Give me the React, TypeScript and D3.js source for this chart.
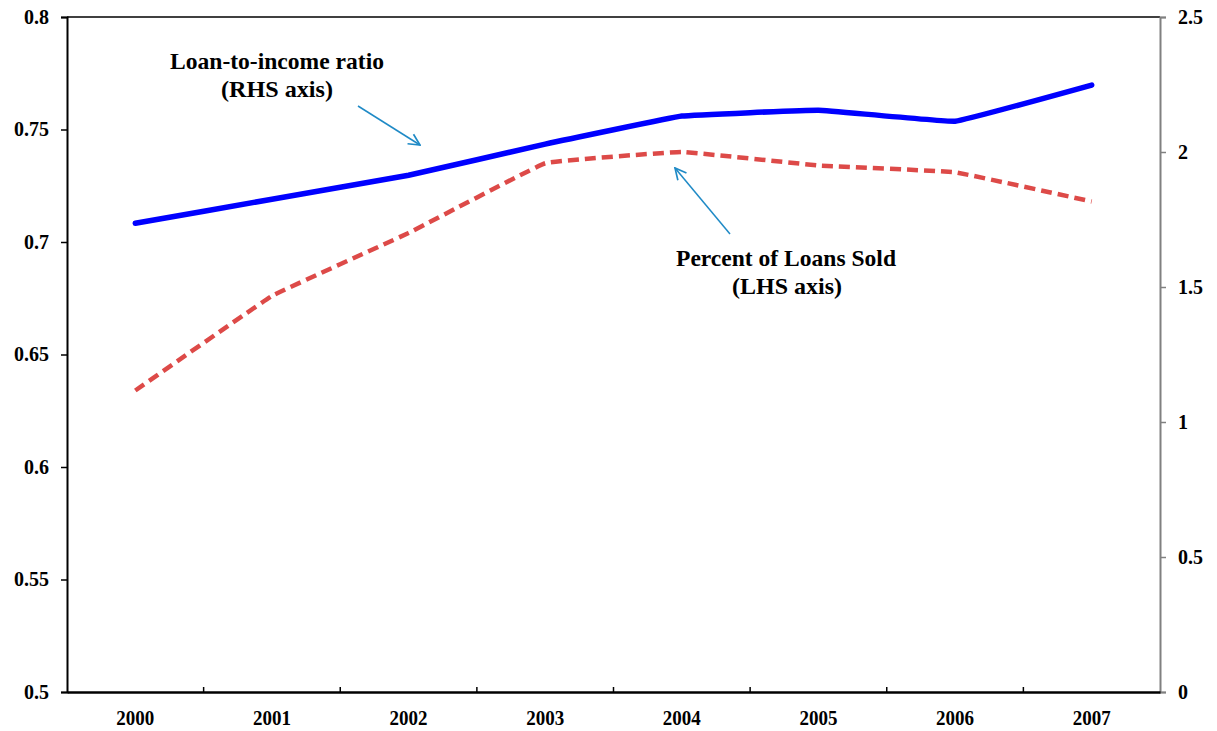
import React, { useRef, useEffect } from 'react'
import * as d3 from 'd3'

const years = ['2000', '2001', '2002', '2003', '2004', '2005', '2006', '2007']
// percent of loans sold, left axis
const loansSold = [0.634, 0.676, 0.704, 0.735, 0.740, 0.734, 0.731, 0.718]
// loan-to-income ratio, right axis
const loanToIncome = [1.736, 1.825, 1.914, 2.029, 2.133, 2.155, 2.114, 2.248]
const leftTicks = [0.5, 0.55, 0.6, 0.65, 0.7, 0.75, 0.8]
const rightTicks = [0, 0.5, 1, 1.5, 2, 2.5]

const W = 1217
const H = 731
const FONT = '"Liberation Serif", "Times New Roman", serif'

const App = () => {
  const ref = useRef<SVGSVGElement>(null)

  useEffect(() => {
    const svg = d3.select(ref.current)
    svg.selectAll('*').remove()

    const left = 67, right = 1160, top = 17, bottom = 692

    const x = d3.scaleBand().domain(years).range([left, right]).padding(0)
    const yL = d3.scaleLinear().domain([0.5, 0.8]).range([bottom, top])
    const yR = d3.scaleLinear().domain([0, 2.5]).range([bottom, top])
    const cx = (i: number) => (x(years[i]) as number) + x.bandwidth() / 2

    // top frame line
    svg.append('line')
      .attr('x1', left).attr('x2', right).attr('y1', top).attr('y2', top)
      .attr('stroke', '#000').attr('stroke-width', 1.5)

    // left axis
    const gl = svg.append('g')
      .attr('transform', `translate(${left},0)`)
      .call(d3.axisLeft(yL).tickValues(leftTicks).tickSize(6).tickPadding(12)
        .tickFormat(d => String(+d)))
    gl.select('.domain').attr('stroke', '#000').attr('stroke-width', 2)
    gl.selectAll('.tick line').attr('stroke', '#000').attr('stroke-width', 1.5)
    gl.selectAll('text')
      .attr('font-family', FONT).attr('font-size', 20).attr('font-weight', 'bold').attr('fill', '#000')

    // right axis
    const gr = svg.append('g')
      .attr('transform', `translate(${right},0)`)
      .call(d3.axisRight(yR).tickValues(rightTicks).tickSize(6).tickPadding(12)
        .tickFormat(d => String(+d)))
    gr.select('.domain').attr('stroke', '#808080').attr('stroke-width', 2)
    gr.selectAll('.tick line').attr('stroke', '#808080').attr('stroke-width', 1.5)
    gr.selectAll('text')
      .attr('font-family', FONT).attr('font-size', 20).attr('font-weight', 'bold').attr('fill', '#000')

    // bottom axis: labels centred, ticks at band edges pointing up
    const gb = svg.append('g')
      .attr('transform', `translate(0,${bottom})`)
      .call(d3.axisBottom(x).tickSize(0).tickPadding(18))
    gb.select('.domain').attr('stroke', '#000').attr('stroke-width', 2.5)
    gb.selectAll('text')
      .attr('font-family', FONT).attr('font-size', 21).attr('font-weight', 'bold').attr('fill', '#000')
      .attr('textLength', 38).attr('lengthAdjust', 'spacingAndGlyphs')
    gb.selectAll('line.edge')
      .data(years.slice(1))
      .enter().append('line')
      .attr('class', 'edge')
      .attr('x1', d => x(d) as number).attr('x2', d => x(d) as number)
      .attr('y1', 0).attr('y2', -5)
      .attr('stroke', '#000').attr('stroke-width', 1.5)

    const curve = d3.curveCardinal.tension(0.8)

    // percent of loans sold (LHS), red dashed
    svg.append('path')
      .datum(loansSold)
      .attr('fill', 'none')
      .attr('stroke', '#dd4a48')
      .attr('stroke-width', 4.5)
      .attr('stroke-dasharray', '11 6')
      .attr('d', d3.line<number>().x((_, i) => cx(i)).y(d => yL(d)).curve(curve))

    // loan-to-income ratio (RHS), blue solid
    svg.append('path')
      .datum(loanToIncome)
      .attr('fill', 'none')
      .attr('stroke', '#0000ff')
      .attr('stroke-width', 5.5)
      .attr('stroke-linecap', 'round')
      .attr('d', d3.line<number>().x((_, i) => cx(i)).y(d => yR(d)).curve(curve))

    // annotations
    const arrowColor = '#1f8ac6'
    const defs = svg.append('defs')
    defs.append('marker')
      .attr('id', 'arrowhead')
      .attr('viewBox', '0 0 10 10')
      .attr('refX', 9).attr('refY', 5)
      .attr('markerWidth', 14).attr('markerHeight', 14)
      .attr('markerUnits', 'userSpaceOnUse')
      .attr('orient', 'auto')
      .append('path')
      .attr('d', 'M1,1 L9,5 L1,9')
      .attr('fill', 'none')
      .attr('stroke', arrowColor)
      .attr('stroke-width', 1.2)

    svg.append('line')
      .attr('x1', 358).attr('y1', 106).attr('x2', 420).attr('y2', 145)
      .attr('stroke', arrowColor).attr('stroke-width', 1.5)
      .attr('marker-end', 'url(#arrowhead)')

    svg.append('line')
      .attr('x1', 730).attr('y1', 234).attr('x2', 675).attr('y2', 168)
      .attr('stroke', arrowColor).attr('stroke-width', 1.5)
      .attr('marker-end', 'url(#arrowhead)')

    const note = (tx: number, ty: number, text: string, len: number) =>
      svg.append('text')
        .attr('x', tx).attr('y', ty)
        .attr('text-anchor', 'middle')
        .attr('font-family', FONT).attr('font-size', 23).attr('font-weight', 'bold')
        .attr('fill', '#000')
        .attr('textLength', len).attr('lengthAdjust', 'spacingAndGlyphs')
        .text(text)

    note(277, 69, 'Loan-to-income ratio', 214)
    note(277, 97, '(RHS axis)', 112)
    note(786, 266, 'Percent of Loans Sold', 220)
    note(787, 294, '(LHS axis)', 110)
  }, [])

  return (
    <svg
      ref={ref}
      width={W}
      height={H}
      style={{ position: 'absolute', left: 0, top: 0, background: '#fff' }}
    />
  )
}

export default App
